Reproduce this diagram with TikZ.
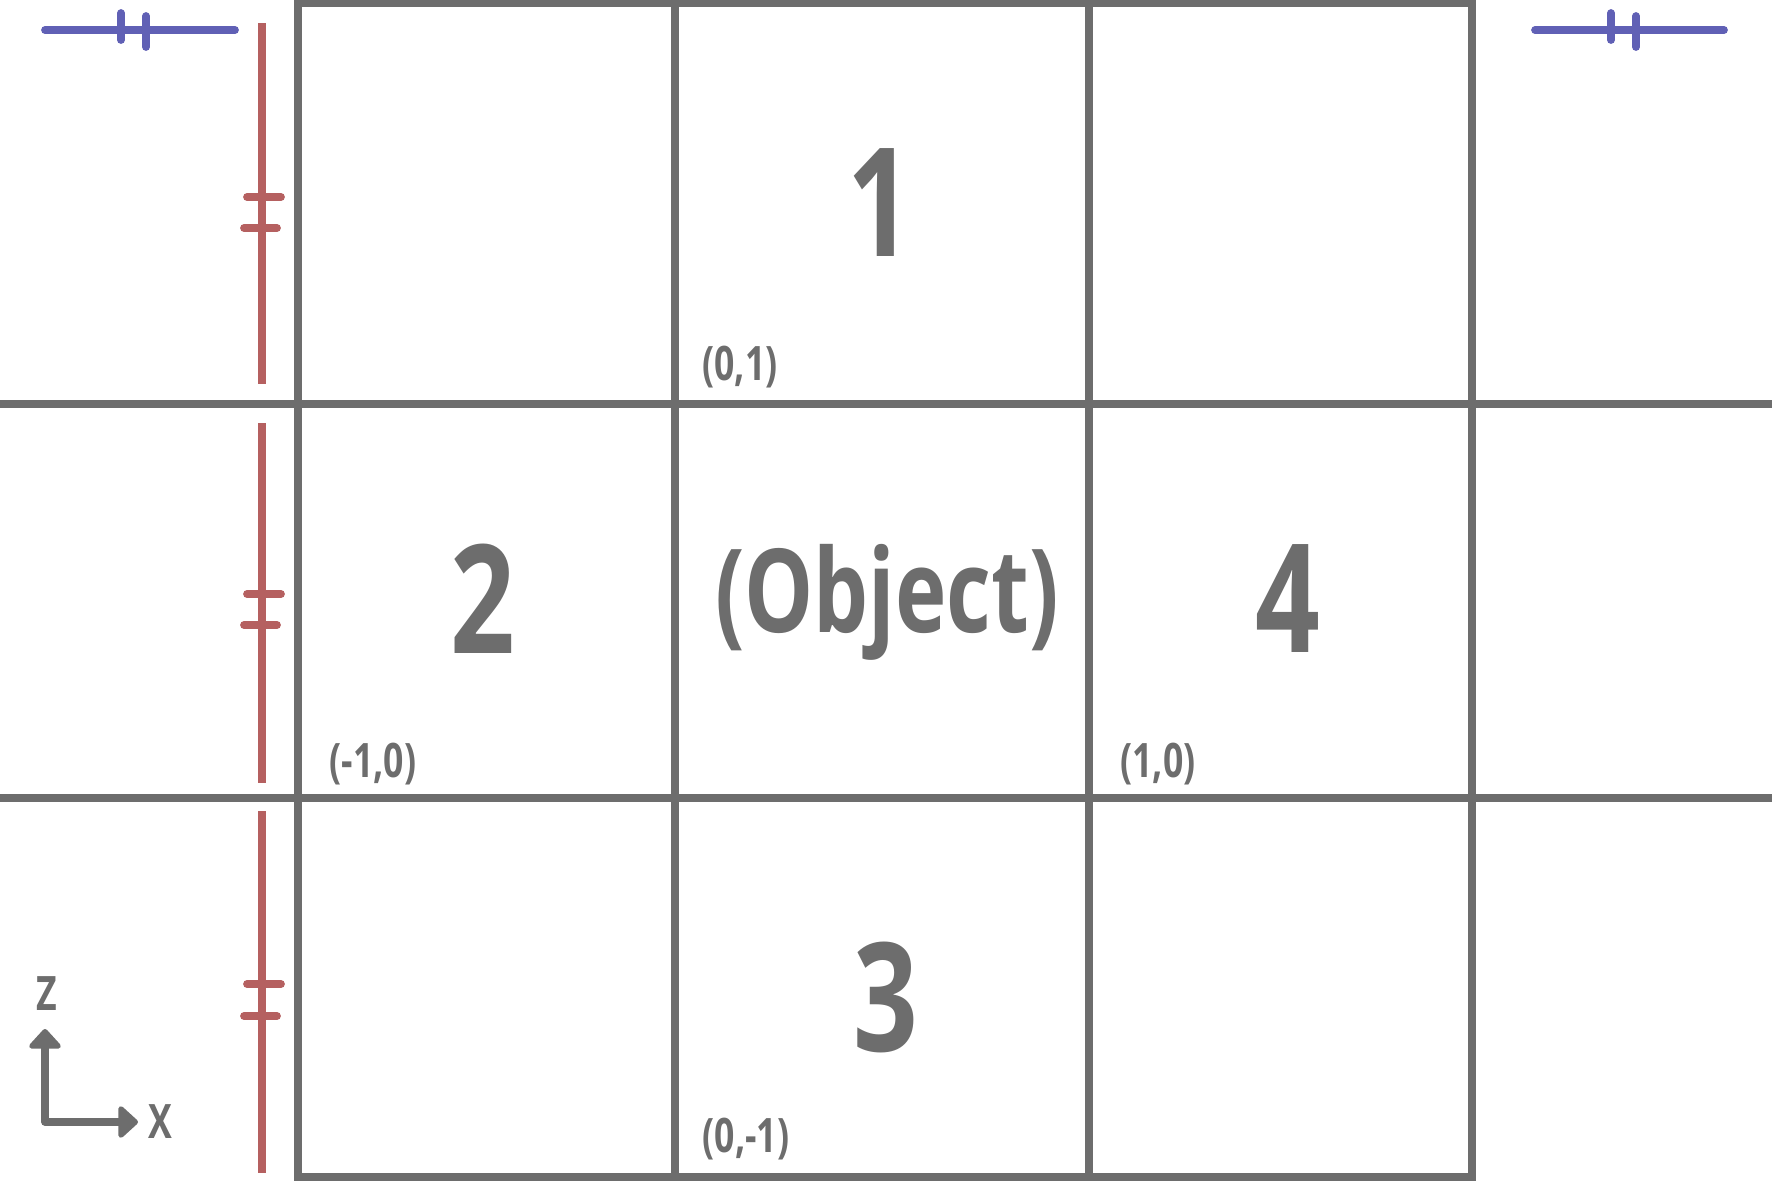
\documentclass[tikz,border=0pt]{standalone}
\usepackage{xcolor}
\usepackage{fontspec}
\setmainfont{Open Sans}[FakeStretch=0.75]
\usetikzlibrary{arrows.meta}

\begin{document}
\begin{tikzpicture}[x=0.01cm, y=-0.01cm,
    every node/.style={inner sep=0pt, text=grisG, font=\bfseries},
    rejilla/.style={draw=grisG, line width=2.1pt},
    bignum/.style={font=\fontsize{43}{43}\selectfont\bfseries},
    coordlbl/.style={font=\fontsize{13.5}{13.5}\selectfont\bfseries},
    rojaL/.style={draw=rojoR, line width=2.1pt},
    marcaR/.style={draw=rojoR, line width=2.2pt, line cap=round},
    azulL/.style={draw=azulB, line width=2.2pt, line cap=round}]

    % Definimos colores
    \definecolor{grisG}{RGB}{109,109,109}   % gris de la rejilla
    \definecolor{rojoR}{RGB}{181,96,96}     % rojo de las marcas
    \definecolor{azulB}{RGB}{96,96,181}     % azul de las marcas

    \useasboundingbox (0,0) rectangle (1772,1181);

    % Rejilla 3x3
    \draw[rejilla] (298,3) rectangle (1472,1177);
    \draw[rejilla] (675,3) -- (675,1177);
    \draw[rejilla] (1089,3) -- (1089,1177);
    \draw[rejilla] (0,404) -- (1772,404);
    \draw[rejilla] (0,798) -- (1772,798);

    % Celdas
    \node[bignum] (c1) at (880,203) {1};
    \node[bignum] (c2) at (483,599) {2};
    \node[font=\fontsize{33}{33}\selectfont\bfseries] (obj) at (887,602) {(Object)};
    \node[bignum] (c4) at (1288,599) {4};
    \node[bignum] (c3) at (886,997) {3};

    % Coordenadas
    \node[coordlbl] (p01) at (740,367) {(0,1)};
    \node[coordlbl] (pm10) at (373,764) {(-1,0)};
    \node[coordlbl] (p10) at (1158,764) {(1,0)};
    \node[coordlbl] (p0m1) at (746,1139) {(0,-1)};

    % Segmentos rojos
    \draw[rojaL] (262,23) -- (262,384);
    \draw[marcaR] (247,197) -- (281,197);
    \draw[marcaR] (244,228) -- (277,228);

    \draw[rojaL] (262,423) -- (262,783);
    \draw[marcaR] (247,594) -- (281,594);
    \draw[marcaR] (244,625) -- (277,625);

    \draw[rojaL] (262,811) -- (262,1173);
    \draw[marcaR] (247,984) -- (281,984);
    \draw[marcaR] (244,1016) -- (277,1016);

    % Segmentos azules
    \draw[azulL] (45,30) -- (235,30);
    \draw[azulL] (121,13) -- (121,40);
    \draw[azulL] (146,16) -- (146,47);

    \draw[azulL] (1535,30) -- (1724,30);
    \draw[azulL] (1611,13) -- (1611,40);
    \draw[azulL] (1636,16) -- (1636,47);

    % Ejes
    \coordinate (ax0) at (45,1122);
    \coordinate (axz) at (45,1029);
    \coordinate (axx) at (138,1122);
    \draw[draw=grisG, line width=2.1pt, line join=round,
          {Triangle[round, width=10.5pt, length=6pt]}-{Triangle[round, width=10.5pt, length=6pt]}]
          (axz) -- (ax0) -- (axx);
    \node[coordlbl] (lz) at (47,994) {Z};
    \node[coordlbl] (lx) at (160,1122) {X};

\end{tikzpicture}
\end{document}
